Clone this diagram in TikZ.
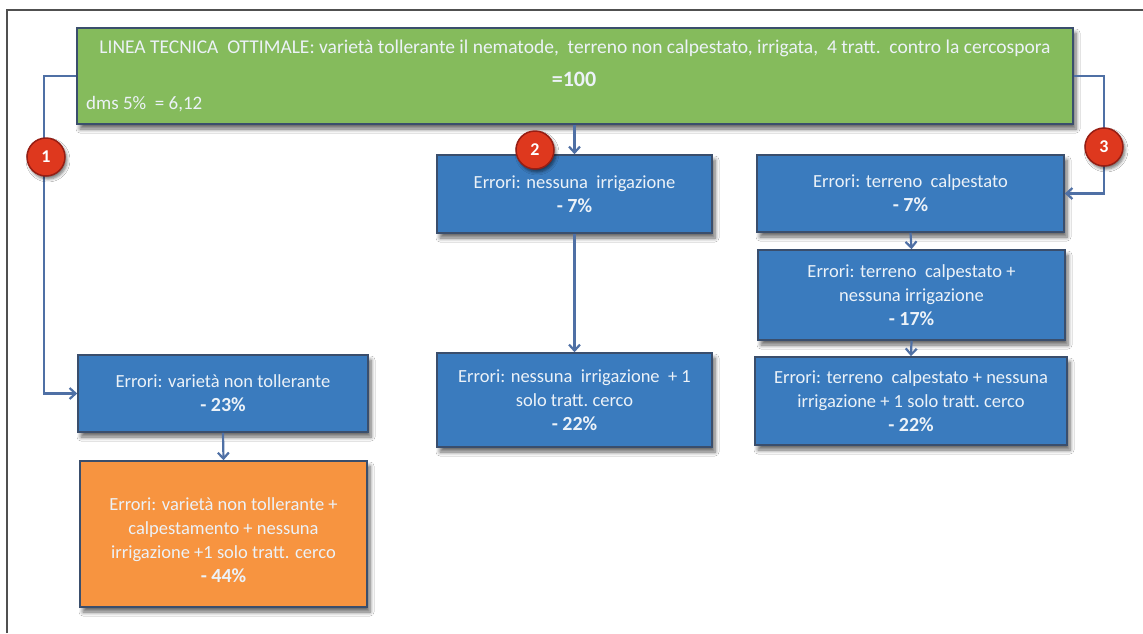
\documentclass[tikz,border=0pt]{standalone}
\usepackage{fontspec}
\setmainfont{Carlito}
\usetikzlibrary{arrows.meta,shadows,shadows.blur}
\definecolor{gfill}{RGB}{133,187,92}
\definecolor{bfill}{RGB}{58,123,190}
\definecolor{ofill}{RGB}{247,148,64}
\definecolor{bord}{RGB}{58,78,108}
\definecolor{conncol}{RGB}{79,112,165}
\definecolor{txt}{RGB}{236,242,248}
\definecolor{rfill}{RGB}{222,56,30}
\definecolor{rbord}{RGB}{150,30,20}
\definecolor{framecol}{RGB}{80,80,80}
\tikzset{
  box/.style={draw=bord, line width=1.6pt, text=txt, align=center, inner sep=0pt,
    font=\fontsize{18.5}{24}\selectfont,
    blur shadow={shadow xshift=3pt, shadow yshift=-5pt, shadow blur radius=4pt, shadow blur steps=6, shadow opacity=60}},
  bluebox/.style={box, fill=bfill},
  greenbox/.style={box, fill=gfill},
  orangebox/.style={box, fill=ofill},
  plain/.style={text=txt, inner sep=0pt, font=\fontsize{18.5}{24}\selectfont},
  pct/.style={font=\fontsize{20}{24}\selectfont\bfseries},
  conn/.style={draw=conncol, line width=2.2pt, -{Straight Barb[length=6pt,width=11pt]}},
  badge/.style={circle, fill=rfill, draw=rbord, line width=1.5pt, minimum size=38pt, inner sep=0pt,
    text=white, font=\fontsize{18}{18}\selectfont\bfseries,
    blur shadow={shadow xshift=2pt, shadow yshift=-3pt, shadow blur radius=3pt, shadow blur steps=5, shadow opacity=55}}
}
\newcommand{\pc}[1]{{\fontsize{20}{24}\selectfont\bfseries #1}}
\begin{document}
\begin{tikzpicture}[x=1pt,y=-1pt]
\useasboundingbox (0,0) rectangle (1143,633);
\fill[white] (0,0) rectangle (1143,633);
\draw[framecol, line width=1.2pt] (7,633) -- (7,10) -- (1143,10);

% main green box
\node[greenbox, minimum width=996pt, minimum height=96pt] (green) at (575,76) {};
\node[plain, font=\fontsize{19.5}{24}\selectfont] (gtitle) at (575,48) {LINEA TECNICA\ \ OTTIMALE: varietà tollerante il nematode,\ \ terreno non calpestato,\ irrigata,\ \ 4 tratt.\ \ contro la cercospora};
\node[plain, font=\fontsize{22}{24}\selectfont\bfseries] (gval) at (574,79) {=100};
\node[plain, anchor=west, font=\fontsize{19}{24}\selectfont] (gdms) at (86,104) {dms 5\%\ \ =\ 6,12};

% branch 1
\node[bluebox, minimum width=290pt, minimum height=77pt] (b1) at (223,393.5)
  {Errori: varietà non tollerante\\\pc{- 23\%}};
\node[orangebox, minimum width=287pt, minimum height=146pt] (o1) at (223.5,534) {};
\node[plain, align=center] (o1text) at (223.5,540)
  {Errori: varietà non tollerante +\\calpestamento + nessuna\\irrigazione +1 solo tratt. cerco\\\pc{- 44\%}};

% branch 2
\node[bluebox, minimum width=275pt, minimum height=78pt] (b2) at (574.5,194)
  {Errori: nessuna\ \ irrigazione\\\pc{- 7\%}};
\node[bluebox, minimum width=275pt, minimum height=94pt] (b2b) at (574.5,400)
  {Errori: nessuna\ \ irrigazione\ \ + 1\\solo tratt.\ cerco\\\pc{- 22\%}};

% branch 3
\node[bluebox, minimum width=307pt, minimum height=77pt] (b3) at (910.5,193.5)
  {Errori: terreno\ \ calpestato\\\pc{- 7\%}};
\node[bluebox, minimum width=307pt, minimum height=90pt] (b4) at (911.5,295)
  {Errori: terreno\ \ calpestato +\\nessuna irrigazione\\\pc{- 17\%}};
\node[bluebox, minimum width=312pt, minimum height=88pt] (b5) at (911,401)
  {Errori: terreno\ \ calpestato + nessuna\\irrigazione + 1 solo tratt.\ cerco\\\pc{- 22\%}};

% connectors
\draw[conn] (green.west) -- ++(-32,0) |- (b1.west);
\draw[conn] (b1.south) -- (o1.north);
\draw[conn] (green.south -| b2.north) -- (b2.north);
\draw[conn] (b2.south) -- (b2b.north);
\draw[conn] (green.east) -- ++(30,0) |- (b3.east);
\draw[conn] (b3.south) -- (b4.north);
\draw[conn] (b4.south) -- (b5.north);

% badges
\node[badge] (n1) at (46,157) {1};
\node[badge] (n2) at (535,150) {2};
\node[badge] (n3) at (1104,147) {3};
\end{tikzpicture}
\end{document}
